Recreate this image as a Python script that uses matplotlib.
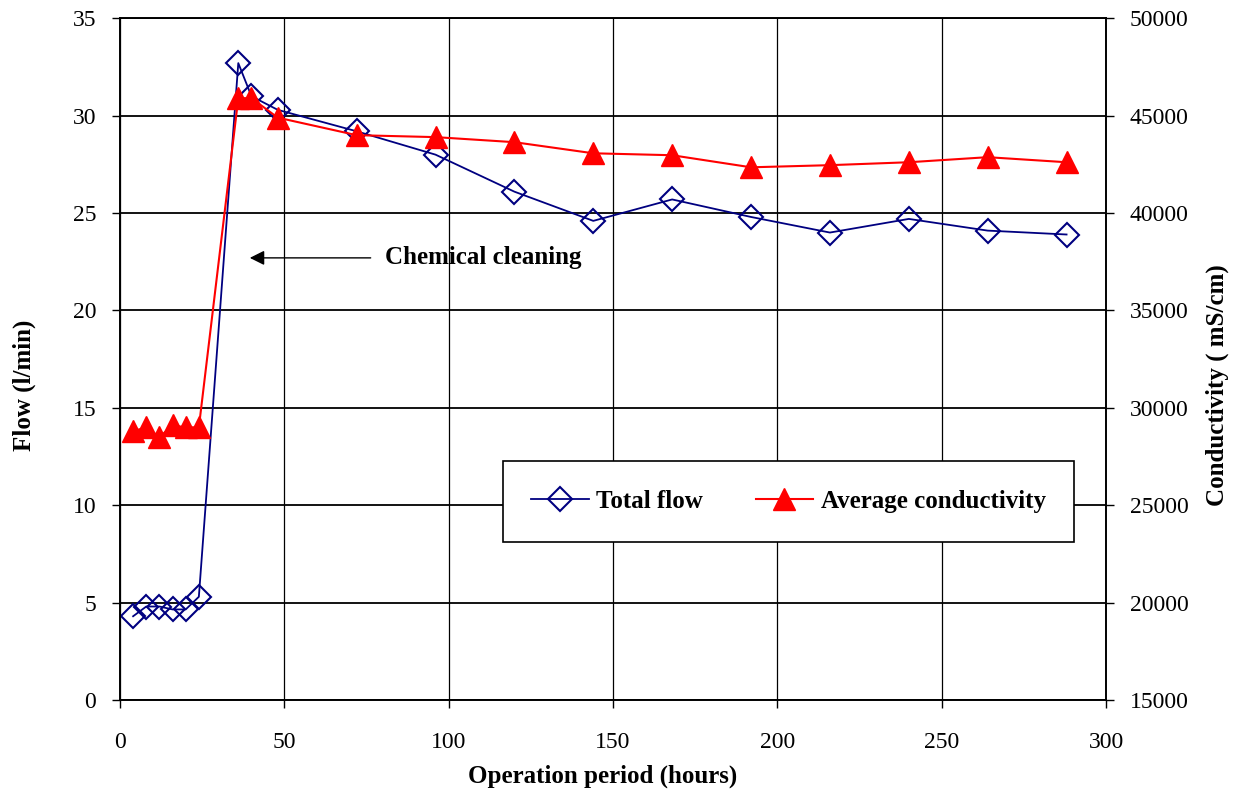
import matplotlib.pyplot as plt

plt.rcParams['font.family'] = ['Liberation Serif', 'DejaVu Serif']

# Data
hours = [4, 8, 12, 16, 20, 24, 36, 40, 48, 72, 96, 120, 144, 168, 192, 216, 240, 264, 288]
total_flow = [4.3, 4.8, 4.8, 4.65, 4.65, 5.3, 32.7, 31.0, 30.3, 29.2, 28.0, 26.1, 24.6,
              25.7, 24.8, 24.0, 24.7, 24.1, 23.9]
avg_cond = [28800, 29000, 28500, 29100, 29000, 29000, 45900, 45900, 44900, 44000, 43900,
            43640, 43070, 42970, 42350, 42460, 42610, 42870, 42610]

fig = plt.figure(figsize=(12.33, 7.96), dpi=100)
ax = fig.add_axes([0.0973, 0.1206, 0.7997, 0.8564])
ax2 = ax.twinx()

l1, = ax.plot(hours, total_flow, color='#000080', lw=1.3, marker='D', ms=12,
              mfc='none', mec='#000080', mew=1.5, label='Total flow')
l2, = ax2.plot(hours, avg_cond, color='#FF0000', lw=1.5, marker='^', ms=16,
               mfc='#FF0000', mec='#FF0000', label='Average conductivity')

ax.set_xlim(0, 300)
ax.set_ylim(0, 35)
ax2.set_ylim(15000, 50000)
ax.set_xticks(range(0, 301, 50))
ax.set_yticks(range(0, 36, 5))
ax2.set_yticks(range(15000, 50001, 5000))

# horizontal grid a bit heavier than the vertical one, as in the original
ax.grid(True, axis='y', color='black', lw=1.3)
ax.grid(True, axis='x', color='black', lw=0.9)
ax.set_axisbelow(True)
for a in (ax, ax2):
    a.tick_params(labelsize=17, direction='out', length=6, width=1, pad=11)
    for s in a.spines.values():
        s.set_color('black')
        s.set_linewidth(1.2)
ax.tick_params(axis='x', pad=17)

# axis titles placed by pixel position of the reference
fig.text(0.4887, 0.025, 'Operation period (hours)', fontsize=18, fontweight='bold',
         ha='center', va='center')
fig.text(0.0195, 0.5165, 'Flow (l/min)', fontsize=18, fontweight='bold',
         rotation=90, ha='center', va='center')
fig.text(0.9875, 0.5165, 'Conductivity ( mS/cm)', fontsize=18, fontweight='bold',
         rotation=90, ha='center', va='center')

ax.annotate('Chemical cleaning', xy=(39.5, 22.7), xytext=(80.5, 22.7),
            fontsize=18, fontweight='bold', va='center', ha='left',
            arrowprops=dict(arrowstyle='-|>', color='black', lw=1, mutation_scale=22,
                            shrinkA=8, shrinkB=0))

leg = ax2.legend(handles=[l1, l2], ncol=2, loc='upper left',
                 bbox_to_anchor=(0.388, 0.350), borderaxespad=0,
                 fancybox=False, edgecolor='black', framealpha=1,
                 prop={'size': 18, 'weight': 'bold'}, handlelength=2.3,
                 handletextpad=0.3, columnspacing=2.1, borderpad=1.15)
leg.get_frame().set_linewidth(1.2)

fig.savefig('out.png', dpi=100)
